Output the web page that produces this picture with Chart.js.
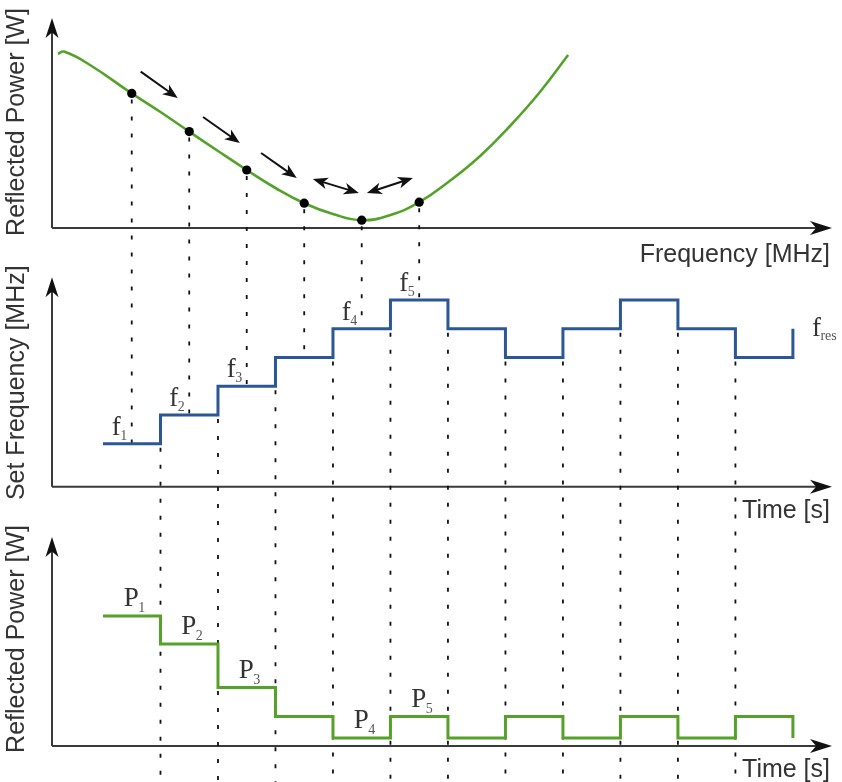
<!DOCTYPE html>
<html><head><meta charset="utf-8">
<script src="https://cdn.jsdelivr.net/npm/chart.js@4/dist/chart.umd.min.js"></script>
<style>html,body{margin:0;padding:0;background:#fff;overflow:hidden}canvas{display:block}</style>
</head><body>
<canvas id="c" width="842" height="782"></canvas>
<script>
// ---------- data ----------
// top panel: reflected power vs frequency (schematic units)
const curveFreq  = [0.217, 0.322, 0.774, 1.5, 2.0, 2.5, 3.0, 3.5, 4.0, 4.5, 5.0, 5.5, 6.0, 6.5, 7.03, 7.56, 8.08, 8.6, 9.09];
const curvePower = [8.7, 8.82, 8.15, 6.73, 5.8, 4.82, 3.85, 2.9, 2.0, 1.24, 0.7, 0.39, 0.65, 1.29, 2.35, 3.6, 5.1, 6.8, 8.65];
const probeFreq  = [1.5, 2.5, 3.5, 4.5, 5.5, 6.5];
const probePower = [6.73, 4.82, 2.9, 1.24, 0.39, 1.29];
// search direction arrows [freqFrom, powerFrom, freqTo, powerTo]
const singleArrows = [[1.656, 7.82, 2.30, 6.5], [2.74, 5.55, 3.38, 4.25], [3.75, 3.75, 4.37, 2.5]];
const doubleArrows = [[4.65, 2.45, 5.45, 1.75], [5.59, 1.75, 6.39, 2.5]];
// middle / bottom panels: time steps
const stepTimes      = [1, 2, 3, 4, 5, 6, 7, 8, 9, 10, 11, 12, 13];
const setFrequency   = [1.5, 2.5, 3.5, 4.5, 5.5, 6.5, 5.5, 4.5, 5.5, 6.5, 5.5, 4.5, 5.5];
const reflectedPower = [13.0, 10.2, 5.85, 2.95, 0.8, 2.95, 0.8, 2.95, 0.8, 2.95, 0.8, 2.95, 0.8];
const fLabelSteps = [0, 1, 2, 4, 5];
const fLabelSubs  = ['1', '2', '3', '4', '5'];
const pLabelSteps = [0, 1, 2, 4, 5];
const pLabelSubs  = ['1', '2', '3', '4', '5'];
const resLabelMain = 'f', resLabelSub = 'res';
const titleTopY = 'Reflected Power [W]', titleTopX = 'Frequency [MHz]';
const titleMidY = 'Set Frequency [MHz]', titleMidX = 'Time [s]';
const titleBotY = 'Reflected Power [W]', titleBotX = 'Time [s]';
const axisTips = {yP: 10.5, yF: 7.3, yR: 20.9};

// ---------- style ----------
const GREEN = '#55a22a', BLUE = '#2b5797', AXIS = '#3a3a3a', TXT = '#333333', SUBTXT = '#555555';
const SANS = '"Liberation Sans", Arial, sans-serif';
const SERIF = '"Liberation Serif", "DejaVu Serif", serif';

function head(ctx, x, y, ang, len, hw) {
  ctx.save(); ctx.translate(x, y); ctx.rotate(ang);
  ctx.beginPath(); ctx.moveTo(0, 0); ctx.lineTo(-len, -hw); ctx.lineTo(-len * 0.72, 0); ctx.lineTo(-len, hw);
  ctx.closePath(); ctx.fill(); ctx.restore();
}
function line(ctx, x1, y1, x2, y2) { ctx.beginPath(); ctx.moveTo(x1, y1); ctx.lineTo(x2, y2); ctx.stroke(); }

const diagramPlugin = {
  id: 'diagram',
  beforeDatasetsDraw(chart) {
    const ctx = chart.ctx, s = chart.scales, ca = chart.chartArea;
    ctx.save();
    // axes with arrows
    ctx.strokeStyle = AXIS; ctx.fillStyle = '#111'; ctx.lineWidth = 2; ctx.setLineDash([]);
    ['yP', 'yF', 'yR'].forEach(id => {
      const y0 = s[id].getPixelForValue(0), yt = s[id].getPixelForValue(axisTips[id]);
      line(ctx, ca.left, y0, ca.right - 12, y0);
      line(ctx, ca.left, y0, ca.left, yt + 12);
      head(ctx, ca.right, y0, 0, 22, 7);
      head(ctx, ca.left, yt, -Math.PI / 2, 20, 6.5);
    });
    // dashed guide lines
    ctx.strokeStyle = '#111'; ctx.lineWidth = 1.8; ctx.setLineDash([4, 13]);
    probeFreq.forEach((f, i) => {
      const x = s.xf.getPixelForValue(f);
      const seg = Math.floor(f - stepTimes[0]);
      line(ctx, x, s.yP.getPixelForValue(probePower[i]) + 6, x, s.yF.getPixelForValue(setFrequency[seg]));
    });
    for (let i = 1; i < stepTimes.length - 1; i++) {
      const x = s.x.getPixelForValue(stepTimes[i]);
      const lo = Math.min(setFrequency[i - 1], setFrequency[i]);
      line(ctx, x, s.yF.getPixelForValue(lo) + 4, x, chart.height);
    }
    ctx.restore();
  },
  afterDatasetsDraw(chart) {
    const ctx = chart.ctx, s = chart.scales, ca = chart.chartArea;
    ctx.save();
    // search arrows
    ctx.strokeStyle = '#111'; ctx.fillStyle = '#111'; ctx.lineWidth = 2; ctx.setLineDash([]);
    const drawArrow = (a, both) => {
      const x1 = s.xf.getPixelForValue(a[0]), y1 = s.yP.getPixelForValue(a[1]);
      const x2 = s.xf.getPixelForValue(a[2]), y2 = s.yP.getPixelForValue(a[3]);
      const ang = Math.atan2(y2 - y1, x2 - x1), c = Math.cos(ang), sn = Math.sin(ang);
      const sx = both ? x1 + c * 9 : x1, sy = both ? y1 + sn * 9 : y1;
      line(ctx, sx, sy, x2 - c * 9, y2 - sn * 9);
      head(ctx, x2, y2, ang, 15, 6);
      if (both) head(ctx, x1, y1, ang + Math.PI, 15, 6);
    };
    singleArrows.forEach(a => drawArrow(a, false));
    doubleArrows.forEach(a => drawArrow(a, true));

    // axis titles
    ctx.fillStyle = TXT; ctx.font = '25px ' + SANS; ctx.textBaseline = 'alphabetic';
    const vtitle = (t, yv) => { ctx.save(); ctx.translate(24, yv); ctx.rotate(-Math.PI / 2); ctx.textAlign = 'center'; ctx.fillText(t, 0, 0); ctx.restore(); };
    const yPtop = s.yP.getPixelForValue(0), yFtop = s.yF.getPixelForValue(0), yRtop = s.yR.getPixelForValue(0);
    vtitle(titleTopY, yPtop - 106);
    vtitle(titleMidY, yFtop - 104);
    vtitle(titleBotY, yRtop - 107);
    ctx.textAlign = 'right';
    ctx.fillText(titleTopX, ca.right - 2, yPtop + 34);
    ctx.fillText(titleMidX, ca.right - 2, yFtop + 31);
    ctx.fillText(titleBotX, ca.right - 2, yRtop + 31);

    // subscript labels
    const mainF = '27px ' + SERIF, subF = '14px ' + SERIF;
    const lbl = (main, sub, x, y, subDy) => {
      ctx.textAlign = 'left';
      ctx.font = mainF; ctx.fillStyle = TXT; ctx.fillText(main, x, y);
      const w = ctx.measureText(main).width;
      ctx.font = subF; ctx.fillStyle = SUBTXT; ctx.fillText(sub, x + w - 0.5, y + subDy);
    };
    const measure = (main, sub) => { ctx.font = mainF; const a = ctx.measureText(main).width; ctx.font = subF; return a + ctx.measureText(sub).width; };
    fLabelSteps.forEach((k, j) => {
      const mid = s.x.getPixelForValue((stepTimes[k] + stepTimes[k + 1]) / 2);
      const y = s.yF.getPixelForValue(setFrequency[k]);
      const w = measure('f', fLabelSubs[j]);
      lbl('f', fLabelSubs[j], mid - 4 - w, y - 9, 5);
    });
    pLabelSteps.forEach((k, j) => {
      const mid = s.x.getPixelForValue((stepTimes[k] + stepTimes[k + 1]) / 2);
      const y = s.yR.getPixelForValue(reflectedPower[k]);
      lbl('P', pLabelSubs[j], mid - 8, y - 10, 6);
    });
    const last = stepTimes.length - 1;
    lbl(resLabelMain, resLabelSub, s.x.getPixelForValue(stepTimes[last]) + 19, s.yF.getPixelForValue(setFrequency[last]) + 7, 4);
    ctx.restore();
  }
};

const xRange = {min: 0.113, max: 13.68};
new Chart(document.getElementById('c'), {
  type: 'line',
  data: {
    datasets: [
      {data: curveFreq.map((f, i) => ({x: f, y: curvePower[i]})), xAxisID: 'xf', yAxisID: 'yP', order: 2,
       borderColor: GREEN, borderWidth: 2.6, pointRadius: 0, tension: 0.45, fill: false},
      {data: probeFreq.map((f, i) => ({x: f, y: probePower[i]})), xAxisID: 'xf', yAxisID: 'yP', order: 0,
       showLine: false, pointRadius: 4.6, pointBackgroundColor: '#000', pointBorderColor: '#000', pointBorderWidth: 0},
      {data: stepTimes.map((t, i) => ({x: t, y: setFrequency[i]})), xAxisID: 'x', yAxisID: 'yF', order: 1,
       stepped: true, borderColor: BLUE, borderWidth: 3, pointRadius: 0, fill: false},
      {data: stepTimes.map((t, i) => ({x: t, y: reflectedPower[i]})), xAxisID: 'x', yAxisID: 'yR', order: 1,
       stepped: true, borderColor: GREEN, borderWidth: 3, pointRadius: 0, fill: false}
    ]
  },
  options: {
    responsive: false, animation: false, devicePixelRatio: 1,
    layout: {padding: {left: 52, right: 10, top: 18, bottom: 26}, autoPadding: false},
    plugins: {legend: {display: false}, tooltip: {enabled: false}, title: {display: false}},
    events: [],
    scales: {
      x:  {type: 'linear', display: false, position: 'bottom', min: xRange.min, max: xRange.max},
      xf: {type: 'linear', display: false, position: 'bottom', min: xRange.min, max: xRange.max},
      yR: {type: 'linear', display: false, position: 'left', stack: 'panels', stackWeight: 256, min: -1.0, max: 24.6},
      yF: {type: 'linear', display: false, position: 'left', stack: 'panels', stackWeight: 255, min: -0.463, max: 8.42},
      yP: {type: 'linear', display: false, position: 'left', stack: 'panels', stackWeight: 227, min: -0.85, max: 10.5}
    }
  },
  plugins: [diagramPlugin]
});
</script>
</body></html>
